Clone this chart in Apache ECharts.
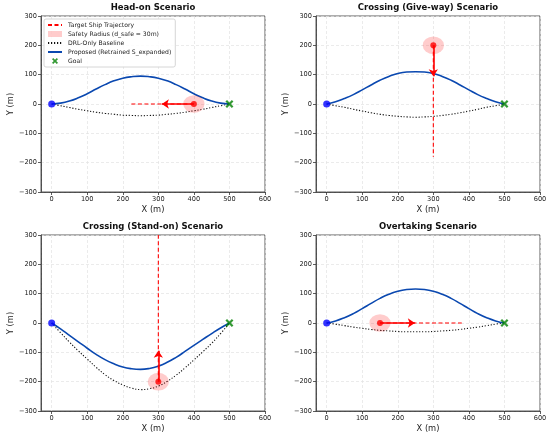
<!DOCTYPE html>
<html>
<head>
<meta charset="utf-8">
<title>COLREG scenarios</title>
<script src="https://cdn.jsdelivr.net/npm/echarts@6/dist/echarts.min.js"></script>
<style>
  html, body { margin: 0; padding: 0; background: #fff; }
  #chart { width: 550px; height: 439px; }
</style>
</head>
<body>
<div id="chart"></div>
<script>
// ==================== 数据 ====================

// 路径采样点的 x 坐标 (m)
var PATH_X = [0, 25, 50, 75, 100, 125, 150, 175, 200, 225, 250,
              275, 300, 325, 350, 375, 400, 425, 450, 475, 500];

// Head-on
var HO_PROPOSED = [0, 3, 10, 21, 35, 51, 66, 79, 88, 93, 95, 93, 88, 79, 66, 51, 35, 21, 10, 3, 0];
var HO_BASELINE = [0, -6, -12, -18, -23, -28, -32, -35, -38, -39, -40, -39, -38, -35, -32, -28, -23, -18, -12, -6, 0];
// Crossing (Give-way)
var GW_PROPOSED = [0, 8, 19, 32, 48, 65, 81, 94, 104, 109, 110, 109, 104, 94, 81, 65, 48, 32, 19, 8, 0];
var GW_BASELINE = [0, -6, -11, -18, -24, -30, -35, -39, -42, -44, -45, -44, -42, -39, -35, -30, -24, -18, -11, -6, 0];
// Crossing (Stand-on)
var SO_PROPOSED = [0, -20, -42, -64, -86, -107, -125, -139, -150, -156, -158, -155, -147, -134, -117, -97, -76, -56, -36, -17, 0];
var SO_BASELINE = [0, -33, -65, -95, -123, -151, -176, -196, -211, -222, -227, -224, -215, -199, -178, -153, -126, -98, -69, -36, 0];
// Overtaking
var OT_PROPOSED = [0, 7, 18, 32, 49, 67, 84, 98, 108, 114, 116, 114, 108, 98, 84, 67, 49, 32, 18, 7, 0];
var OT_BASELINE = [0, -4, -9, -14, -18, -22, -25, -27, -29, -30, -30, -30, -29, -27, -25, -22, -18, -14, -9, -4, 0];

// 目标船：当前位置 / 轨迹终点 / 箭头终点
var TARGET_POS   = [[400, 0],   [300, 200],  [300, -200], [150, 0]];
var TARGET_END   = [[220, 0],   [300, -180], [300, 300],  [380, 0]];
var TARGET_ARROW = [[310, 0],   [300, 95],   [300, -95],  [248, 0]];

var SAFE_RADIUS = 30;
var START_POINT = [0, 0];
var GOAL_POINT  = [500, 0];

var TITLES = ['Head-on Scenario', 'Crossing (Give-way) Scenario',
              'Crossing (Stand-on) Scenario', 'Overtaking Scenario'];
var PROPOSED = [HO_PROPOSED, GW_PROPOSED, SO_PROPOSED, OT_PROPOSED];
var BASELINE = [HO_BASELINE, GW_BASELINE, SO_BASELINE, OT_BASELINE];

var X_TICKS = [0, 100, 200, 300, 400, 500, 600];
var Y_TICKS = [-300, -200, -100, 0, 100, 200, 300];

var LEGEND_NAMES = [
  'Target Ship Trajectory',
  'Safety Radius (d_safe = 30m)',
  'DRL-Only Baseline',
  'Proposed (Retrained S_expanded)',
  'Goal'
];

(function () {
  'use strict';

  var FONT = 'DejaVu Sans';
  var RED = '#ff0000';
  var SAFE_FILL = 'rgba(255, 0, 0, 0.2)';
  var BLUE_LINE = '#0a48b0';
  var X_MARK = 'path://M2,0 L5,3 L8,0 L10,2 L7,5 L10,8 L8,10 L5,7 L2,10 L0,8 L3,5 L0,2 Z';

  // 子图布局 (px)
  var PANELS = [
    { left: 41,  top: 16 },
    { left: 316, top: 16 },
    { left: 41,  top: 235 },
    { left: 316, top: 235 }
  ];
  var PW = 224, PH = 176;

  function minus(v) { return String(v).replace('-', '\u2212'); }

  function pairs(xs, ys) {
    return xs.map(function (x, i) { return [x, ys[i]]; });
  }

  var grids = [], xAxes = [], yAxes = [], titles = [], series = [];

  PANELS.forEach(function (p, i) {
    grids.push({
      left: p.left, top: p.top, width: PW, height: PH,
      show: true, borderColor: '#333', borderWidth: 0.8, backgroundColor: '#fff'
    });

    titles.push({
      text: TITLES[i],
      left: p.left + PW / 2, top: p.top - 12.5, textAlign: 'center', padding: 0,
      textStyle: { fontFamily: FONT, fontSize: 8.5, fontWeight: 'bold', color: '#111' }
    });

    xAxes.push({
      gridIndex: i, type: 'value', min: -30, max: 600,
      splitNumber: 6,
      name: 'X (m)', nameLocation: 'middle', nameGap: 14,
      nameTextStyle: { fontFamily: FONT, fontSize: 8.3, color: '#222' },
      axisLine: { show: true, onZero: false, lineStyle: { color: '#333', width: 0.8 } },
      axisTick: { show: true, length: 3, lineStyle: { color: '#333', width: 0.8 } },
      axisLabel: {
        fontFamily: FONT, fontSize: 6.6, color: '#222', margin: 4,
        showMinLabel: false,
        formatter: function (v) { return X_TICKS.indexOf(v) >= 0 ? minus(v) : ''; }
      },
      splitLine: { show: true, lineStyle: { color: '#e2e2e2', type: [3, 2], width: 0.7 } }
    });

    yAxes.push({
      gridIndex: i, type: 'value', min: -300, max: 300, interval: 100,
      name: 'Y (m)', nameLocation: 'middle', nameGap: 26,
      nameTextStyle: { fontFamily: FONT, fontSize: 8.3, color: '#222' },
      axisLine: { show: true, onZero: false, lineStyle: { color: '#333', width: 0.8 } },
      axisTick: { show: true, length: 3, lineStyle: { color: '#333', width: 0.8 } },
      axisLabel: {
        fontFamily: FONT, fontSize: 6.6, color: '#222', margin: 4,
        formatter: function (v) { return Y_TICKS.indexOf(v) >= 0 ? minus(v) : ''; }
      },
      splitLine: { show: true, lineStyle: { color: '#e2e2e2', type: [3, 2], width: 0.7 } }
    });

    // DRL-only 基线
    series.push({
      name: LEGEND_NAMES[2], type: 'line', xAxisIndex: i, yAxisIndex: i,
      data: pairs(PATH_X, BASELINE[i]), smooth: true, symbol: 'none',
      lineStyle: { color: '#111', width: 1.1, type: [1.2, 1.8] },
      itemStyle: { color: '#111' }, z: 2, silent: true
    });

    // 提出方法路径
    series.push({
      name: LEGEND_NAMES[3], type: 'line', xAxisIndex: i, yAxisIndex: i,
      data: pairs(PATH_X, PROPOSED[i]), smooth: true, symbol: 'none',
      lineStyle: { color: BLUE_LINE, width: 1.6 },
      itemStyle: { color: BLUE_LINE }, z: 3, silent: true
    });

    // 安全半径 (数据单位 → 椭圆)
    series.push({
      name: LEGEND_NAMES[1], type: 'custom', xAxisIndex: i, yAxisIndex: i,
      data: [[TARGET_POS[i][0], TARGET_POS[i][1], SAFE_RADIUS]],
      itemStyle: { color: SAFE_FILL }, z: 4, silent: true,
      renderItem: function (params, api) {
        var c = api.coord([api.value(0), api.value(1)]);
        var s = api.size([api.value(2), api.value(2)]);
        return {
          type: 'circle', x: c[0], y: c[1], scaleY: s[1] / s[0],
          shape: { cx: 0, cy: 0, r: s[0] },
          style: { fill: SAFE_FILL }
        };
      }
    });

    // 目标船轨迹 + 速度箭头
    series.push({
      name: LEGEND_NAMES[0], type: 'line', xAxisIndex: i, yAxisIndex: i,
      data: [TARGET_POS[i], TARGET_END[i]], symbol: 'none',
      lineStyle: { color: RED, width: 1.1, type: [4, 2.5] },
      itemStyle: { color: RED }, z: 5, silent: true,
      markLine: {
        silent: true, symbol: ['none', 'arrow'], symbolSize: 7,
        label: { show: false },
        lineStyle: { color: RED, width: 1.6, type: 'solid' },
        data: [[{ coord: TARGET_POS[i] }, { coord: TARGET_ARROW[i] }]],
        animation: false
      }
    });

    series.push({
      name: 'Target', type: 'scatter', xAxisIndex: i, yAxisIndex: i,
      data: [TARGET_POS[i]], symbol: 'circle', symbolSize: 6,
      itemStyle: { color: RED }, z: 6, silent: true
    });

    series.push({
      name: 'Start', type: 'scatter', xAxisIndex: i, yAxisIndex: i,
      data: [START_POINT], symbol: 'circle', symbolSize: 7,
      itemStyle: { color: '#0000ff' }, z: 7, silent: true
    });

    series.push({
      name: LEGEND_NAMES[4], type: 'scatter', xAxisIndex: i, yAxisIndex: i,
      data: [GOAL_POINT], symbol: X_MARK, symbolSize: 8,
      itemStyle: { color: '#008000' }, z: 7, silent: true
    });
  });

  // 线型图例不画中间的圆点
  var NO_DOT = { color: 'rgba(0,0,0,0)', borderWidth: 0 };

  var chart = echarts.init(document.getElementById('chart'), null, { renderer: 'canvas' });

  chart.setOption({
    backgroundColor: '#fff',
    animation: false,
    title: titles,
    grid: grids,
    xAxis: xAxes,
    yAxis: yAxes,
    legend: {
      data: [
        { name: LEGEND_NAMES[0], itemStyle: NO_DOT },
        { name: LEGEND_NAMES[1], icon: 'rect' },
        { name: LEGEND_NAMES[2], itemStyle: NO_DOT },
        { name: LEGEND_NAMES[3], itemStyle: NO_DOT },
        { name: LEGEND_NAMES[4], itemHeight: 8 }
      ],
      orient: 'vertical', left: 44, top: 19,
      itemWidth: 14, itemHeight: 6, itemGap: 3,
      padding: [3, 4, 3, 3],
      backgroundColor: 'rgba(255,255,255,0.85)',
      borderColor: '#ccc', borderWidth: 0.8, borderRadius: 2,
      selectedMode: false,
      textStyle: { fontFamily: FONT, fontSize: 6.1, color: '#222', padding: [0, 0, 0, 1] }
    },
    series: series
  });

  window.addEventListener('resize', function () { chart.resize(); });
})();
</script>
</body>
</html>
